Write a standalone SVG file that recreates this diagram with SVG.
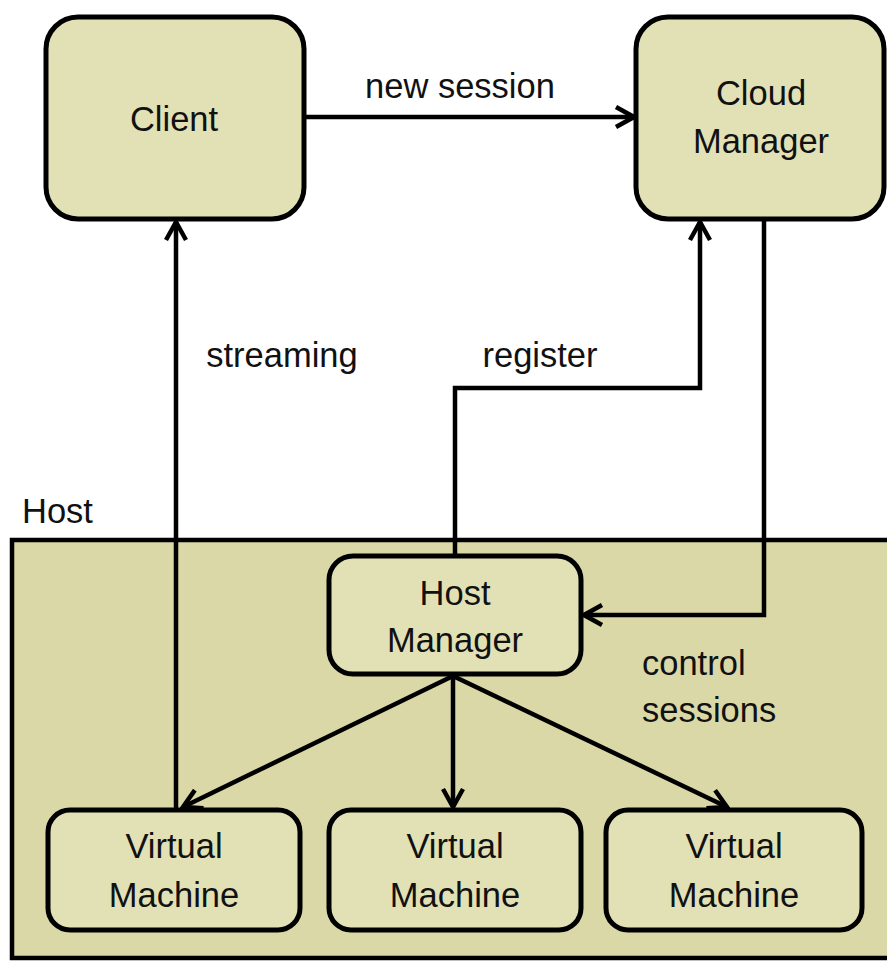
<svg xmlns="http://www.w3.org/2000/svg" width="887" height="961" viewBox="0 0 887 961">
<style>
.node{fill:#e2e1b6;stroke:#000;stroke-width:5}
.host{fill:#dad8a7;stroke:#000;stroke-width:4.5}
.t{font-family:"Liberation Sans",Arial,sans-serif;font-size:34.5px;fill:#111}
.c{text-anchor:middle}
.e{fill:none;stroke:#000;stroke-width:4.5;marker-end:url(#arr)}
</style>
<defs>
<marker id="arr" markerUnits="userSpaceOnUse" viewBox="0 0 24 24" refX="21" refY="12" markerWidth="24" markerHeight="24" orient="auto">
<path d="M3,2 L21,12 L3,22" fill="none" stroke="#000" stroke-width="4.5" stroke-linejoin="miter"/>
</marker>
</defs>
<rect width="887" height="961" fill="#fff"/>
<g id="host">
<rect class="host" x="12" y="540" width="900" height="418"/>
<text class="t" x="22" y="523">Host</text>
</g>
<g id="client">
<rect class="node" x="46" y="17" width="258" height="202" rx="32"/>
<text class="t c" x="174" y="131">Client</text>
</g>
<g id="cloud-manager">
<rect class="node" x="636" y="17" width="248" height="202" rx="32"/>
<text class="t c" x="761" y="105">Cloud</text>
<text class="t c" x="761" y="153">Manager</text>
</g>
<g id="host-manager">
<rect class="node" x="329" y="556" width="252" height="118" rx="24"/>
<text class="t c" x="455" y="605">Host</text>
<text class="t c" x="455" y="652">Manager</text>
</g>
<g id="vm1">
<rect class="node" x="48" y="810" width="252" height="120" rx="22"/>
<text class="t c" x="174" y="858">Virtual</text>
<text class="t c" x="174" y="907">Machine</text>
</g>
<g id="vm2">
<rect class="node" x="329" y="810" width="252" height="120" rx="22"/>
<text class="t c" x="455" y="858">Virtual</text>
<text class="t c" x="455" y="907">Machine</text>
</g>
<g id="vm3">
<rect class="node" x="606" y="810" width="256" height="120" rx="22"/>
<text class="t c" x="734" y="858">Virtual</text>
<text class="t c" x="734" y="907">Machine</text>
</g>
<g id="connectors">
<path class="e" d="M305,117 L634,117"/>
<text class="t c" x="460" y="98">new session</text>
<path class="e" d="M176,808 L176,222"/>
<text class="t c" x="282" y="367">streaming</text>
<path class="e" d="M455,556 L455,388 L700,388 L700,222"/>
<text class="t c" x="540" y="367">register</text>
<path class="e" d="M764,219 L764,615 L584,615"/>
<text class="t" x="642" y="675">control</text>
<text class="t" x="642" y="722">sessions</text>
<path class="e" d="M453,676 L183,807"/>
<path class="e" d="M453,676 L453,807"/>
<path class="e" d="M453,676 L727,807"/>
</g>
</svg>
